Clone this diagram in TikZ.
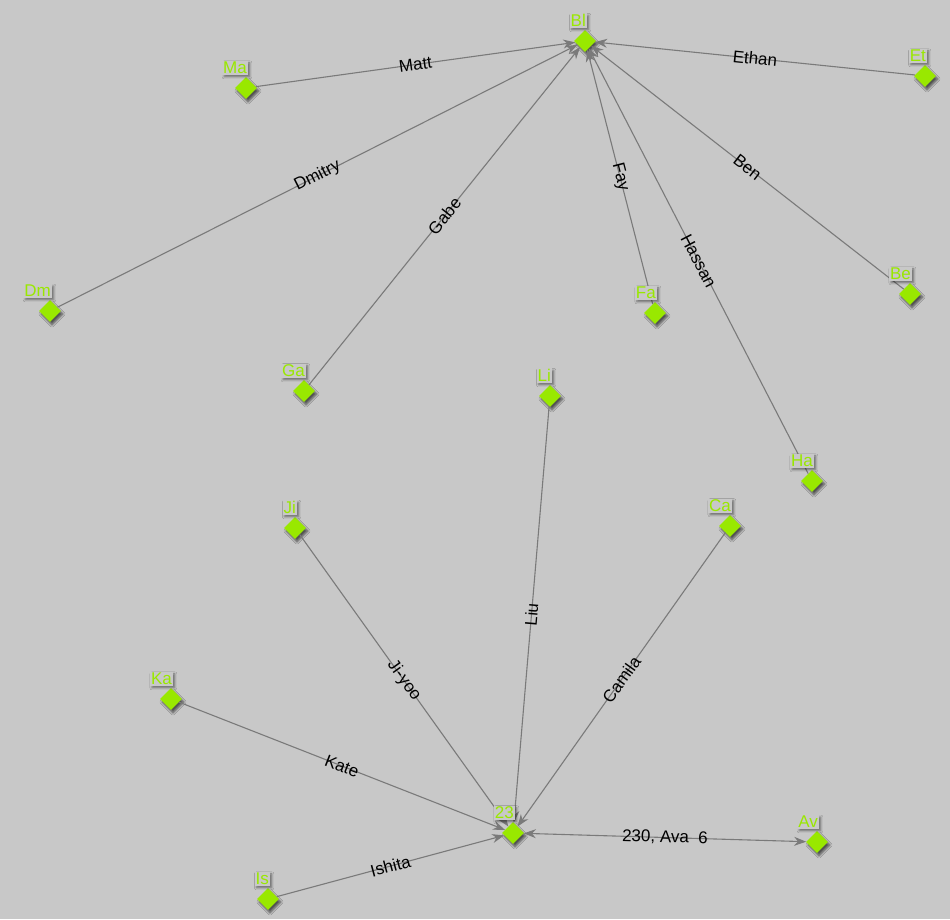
\documentclass[tikz,border=0pt]{standalone}
\usepackage{fontspec}
\setmainfont{Liberation Sans}
\usetikzlibrary{shapes.geometric,arrows.meta,shadows.blur}
\definecolor{bggray}{RGB}{200,200,200}
\definecolor{limegreen}{RGB}{153,232,0}
\definecolor{edgegray}{RGB}{122,122,122}
\tikzset{
  vert/.style={diamond, fill=limegreen, minimum size=22pt, inner sep=0pt,
    blur shadow={shadow xshift=2pt, shadow yshift=-3pt, shadow blur steps=6, shadow opacity=60}},
  vertlab/.style={anchor=south east, text=limegreen, fill=bggray, inner sep=1pt,
    font=\fontsize{17}{17}\selectfont,
    blur shadow={shadow xshift=2pt, shadow yshift=-2pt, shadow blur steps=4, shadow opacity=45}},
  link/.style={draw=edgegray, line width=1.1pt, -{Stealth[length=12pt,width=9pt]}},
  linklab/.style={sloped, midway, inner sep=1pt, font=\fontsize{17}{17}\selectfont}
}
\begin{document}
\begin{tikzpicture}[x=1pt, y=-1pt]
    \fill[bggray] (0,0) rectangle (950,919);
    \useasboundingbox (0,0) rectangle (950,919);
    % vertices
    \foreach \name/\x/\y in {bl/585/41, ma/246/88, et/925/76, dm/50/311,
        ga/304/391, fa/655/313, be/910/294, li/550/396, ha/812/481,
        ji/295/528, ca/730/526, ka/171/699, n23/513/833, av/817/842, is/268/899}
        \node[vert] (\name) at (\x,\y) {};
    % links into Bl
    \foreach \src/\who in {ma/Matt, et/Ethan, dm/Dmitry, ga/Gabe, fa/Fay, be/Ben, ha/Hassan}
        \draw[link] (\src) -- node[linklab] {\who} (bl);
    % links into 23
    \foreach \src/\who in {ji/Ji-yoo, li/Liu, ca/Camila, ka/Kate, is/Ishita}
        \draw[link] (\src) -- node[linklab] {\who} (n23);
    \draw[link, {Stealth[length=12pt,width=9pt]}-{Stealth[length=12pt,width=9pt]}]
        (n23) -- node[linklab] {230, Ava\ \ 6} (av);
    % vertex labels on top
    \foreach \name/\txt in {bl/Bl, ma/Ma, et/Et, dm/Dm, ga/Ga, fa/Fa, be/Be, li/Li,
        ha/Ha, ji/Ji, ca/Ca, ka/Ka, n23/23, av/Av, is/Is}
        \node[vertlab] (\name-lab) at ([shift={(2,-13)}]\name) {\txt};
\end{tikzpicture}
\end{document}
